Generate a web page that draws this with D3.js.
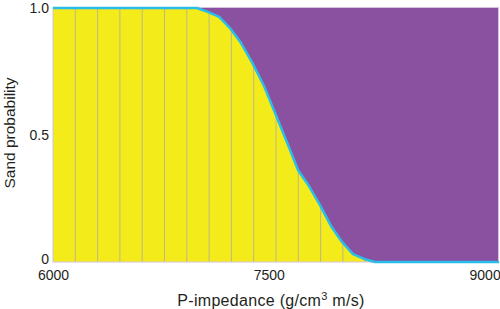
<!DOCTYPE html>
<html><head><meta charset="utf-8">
<script src="https://cdn.jsdelivr.net/npm/d3@7"></script>
<style>body{margin:0;background:#fff}svg{display:block}text{font-family:"Liberation Sans",Arial,sans-serif;fill:#231f20}</style>
</head><body><svg id="c" width="500" height="309"></svg>
<script>
// Data
const impedance = [6000, 6930, 7000, 7080, 7155, 7230, 7307, 7383, 7467, 7543, 7620, 7703, 7779, 7856, 7932, 8009, 8085, 8162, 8238, 9100];
const sandProb  = [1.0, 1.0, 1.0, 0.984, 0.965, 0.921, 0.862, 0.787, 0.693, 0.587, 0.480, 0.362, 0.299, 0.224, 0.142, 0.079, 0.031, 0.012, 0.0, 0.0];
const gridX = [6155, 6310, 6465, 6620, 6775, 6930, 7085, 7240, 7395, 7550, 7705, 7860, 8015, 8170, 8325, 8480, 8635, 8790, 8945];
const xTicks = [6000, 7500, 9000];
const yTicks = [0, 0.5, 1.0];
const yTickLabels = ["0", "0.5", "1.0"];

const data = impedance.map((x, i) => ({x, p: sandProb[i]}));
const svg = d3.select("#c");
const L = 53, R = 499, T = 8, B = 262;
const x = d3.scaleLinear().domain([6000, 9100]).range([L, R]);
const y = d3.scaleLinear().domain([0, 1]).range([B, T]);

const purple = "#8a51a0", yellow = "#f3eb1a", cyan = "#2bbde9";

svg.append("path").datum(data).attr("fill", purple)
  .attr("d", d3.area().x(d => x(d.x)).y0(y(1)).y1(d => y(d.p)));
const yArea = d3.area().x(d => x(d.x)).y0(y(0)).y1(d => y(d.p));
svg.append("path").datum(data).attr("fill", yellow).attr("d", yArea);

svg.append("clipPath").attr("id", "yc").append("path").datum(data).attr("d", yArea);
svg.append("g").attr("clip-path", "url(#yc)").selectAll("line").data(gridX).join("line")
  .attr("x1", d => x(d)).attr("x2", d => x(d)).attr("y1", T).attr("y2", B)
  .attr("stroke", "#bdb88c").attr("stroke-width", 1);

// frame
svg.append("rect").attr("x", L).attr("y", T - 0.5).attr("width", R - L - 0.5).attr("height", B - T + 0.5)
  .attr("fill", "none").attr("stroke", "#d6c2dc").attr("stroke-width", 1);

svg.append("path").datum(data).attr("fill", "none").attr("stroke", cyan).attr("stroke-width", 2.5)
  .attr("stroke-linejoin", "round")
  .attr("d", d3.line().x(d => x(d.x)).y(d => y(d.p)));

// axes (labels only)
const yAxis = d3.axisLeft(y).tickValues(yTicks).tickFormat((d, i) => yTickLabels[i]).tickSize(0).tickPadding(4);
const gy = svg.append("g").attr("transform", `translate(${L},0)`).call(yAxis);
gy.select(".domain").remove();
gy.selectAll("text").style("font-size", "14px").attr("fill", "#231f20");
gy.selectAll(".tick").filter(d => d === 0).select("text").attr("dy", "0.1em");

const xAxis = d3.axisBottom(x).tickValues(xTicks).tickFormat(d3.format("d")).tickSize(0).tickPadding(8);
const gx = svg.append("g").attr("transform", `translate(0,${B})`).call(xAxis);
gx.select(".domain").remove();
gx.selectAll("text").style("font-size", "14px").attr("fill", "#231f20");

const xt = svg.append("text").attr("x", 271).attr("y", 306).attr("text-anchor", "middle")
  .style("font-size", "16px").style("letter-spacing", "0.3px");
xt.append("tspan").text("P-impedance (g/cm");
xt.append("tspan").attr("dy", -6).style("font-size", "11px").text("3");
xt.append("tspan").attr("dy", 6).text(" m/s)");

svg.append("text").attr("transform", "translate(15,133) rotate(-90)").attr("text-anchor", "middle")
  .style("font-size", "15.5px").text("Sand probability");
</script></body></html>
